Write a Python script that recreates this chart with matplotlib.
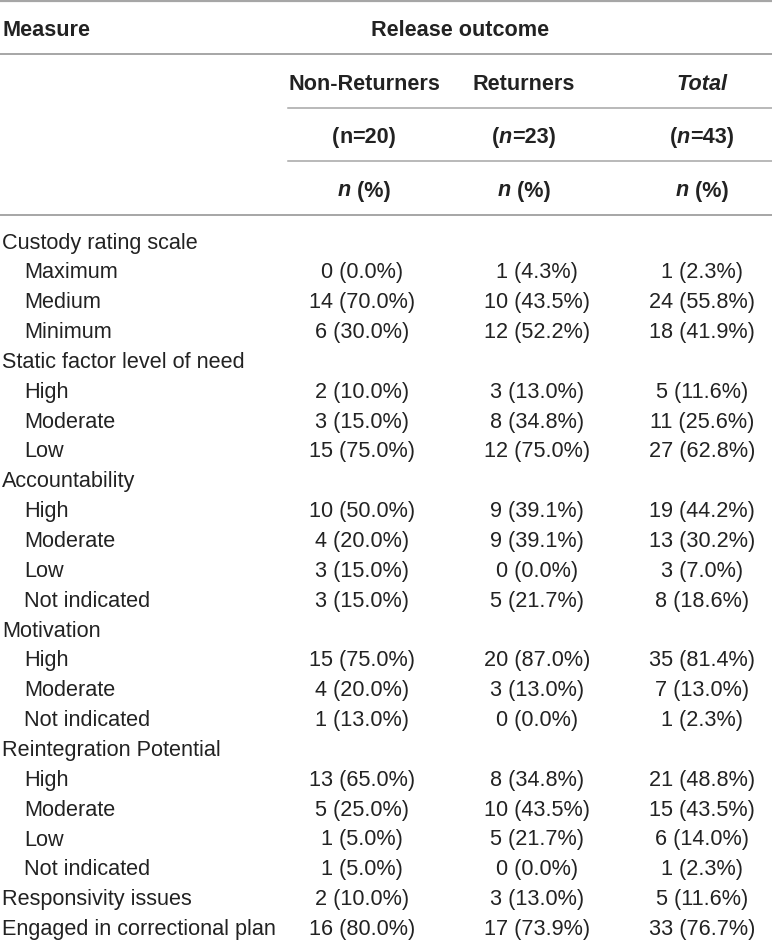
import matplotlib
matplotlib.use("Agg")
import matplotlib.pyplot as plt

plt.rcParams['font.family'] = ['Liberation Sans', 'DejaVu Sans']

# table rows
labels = ["Custody rating scale", "Maximum", "Medium", "Minimum",
          "Static factor level of need", "High", "Moderate", "Low",
          "Accountability", "High", "Moderate", "Low", "Not indicated",
          "Motivation", "High", "Moderate", "Not indicated",
          "Reintegration Potential", "High", "Moderate", "Low", "Not indicated",
          "Responsivity issues", "Engaged in correctional plan"]
indented = [0, 1, 1, 1, 0, 1, 1, 1, 0, 1, 1, 1, 1, 0, 1, 1, 1, 0, 1, 1, 1, 1, 0, 0]

nonret_n = [None, 0, 14, 6, None, 2, 3, 15, None, 10, 4, 3, 3, None, 15, 4, 1, None, 13, 5, 1, 1, 2, 16]
nonret_pct = [None, 0.0, 70.0, 30.0, None, 10.0, 15.0, 75.0, None, 50.0, 20.0, 15.0, 15.0,
              None, 75.0, 20.0, 13.0, None, 65.0, 25.0, 5.0, 5.0, 10.0, 80.0]
ret_n = [None, 1, 10, 12, None, 3, 8, 12, None, 9, 9, 0, 5, None, 20, 3, 0, None, 8, 10, 5, 0, 3, 17]
ret_pct = [None, 4.3, 43.5, 52.2, None, 13.0, 34.8, 75.0, None, 39.1, 39.1, 0.0, 21.7,
           None, 87.0, 13.0, 0.0, None, 34.8, 43.5, 21.7, 0.0, 13.0, 73.9]
tot_n = [None, 1, 24, 18, None, 5, 11, 27, None, 19, 13, 3, 8, None, 35, 7, 1, None, 21, 15, 6, 1, 5, 33]
tot_pct = [None, 2.3, 55.8, 41.9, None, 11.6, 25.6, 62.8, None, 44.2, 30.2, 7.0, 18.6,
           None, 81.4, 13.0, 2.3, None, 48.8, 43.5, 14.0, 2.3, 11.6, 76.7]

groups = ["Non-Returners", "Returners", "Total"]
group_sizes = ["20", "23", "43"]

W, H = 772, 943
fig = plt.figure(figsize=(W / 100, H / 100), dpi=100)
ax = fig.add_axes([0, 0, 1, 1])
ax.set_xlim(0, W)
ax.set_ylim(H, 0)
ax.axis('off')

FS = 15.6
TXT = '#222222'
LINE = '#a6a6a6'
data_x = [362, 537, 702]
head_x = [364, 524, 702]
renderer = fig.canvas.get_renderer()


def mixed(xc, y, parts):
    # bold text made of pieces, some italic, centred on xc
    objs = [ax.text(0, y, s, fontsize=FS, fontweight='bold', fontstyle=st,
                    color=TXT, va='baseline', ha='left') for s, st in parts]
    widths = [t.get_window_extent(renderer).width for t in objs]
    x = xc - sum(widths) / 2
    for t, w in zip(objs, widths):
        t.set_x(x)
        x += w


# rules
ax.plot([0, W], [1, 1], color=LINE, lw=1.6)
ax.plot([0, W], [54, 54], color=LINE, lw=1.4)
ax.plot([288, W], [107.5, 107.5], color=LINE, lw=1.1)
ax.plot([288, W], [161, 161], color=LINE, lw=1.1)
ax.plot([0, W], [215, 215], color=LINE, lw=1.4)

# header
ax.text(2, 36, "Measure", fontsize=FS, fontweight='bold', color=TXT, va='baseline')
ax.text(460, 36, "Release outcome", fontsize=FS, fontweight='bold', color=TXT,
        va='baseline', ha='center')
for i, g in enumerate(groups):
    st = 'italic' if g == "Total" else 'normal'
    ax.text(head_x[i], 89.5, g, fontsize=FS, fontweight='bold', fontstyle=st,
            color=TXT, va='baseline', ha='center')
    n_style = 'normal' if i == 0 else 'italic'
    mixed(head_x[i], 143, [("(", 'normal'), ("n", n_style), ("=" + group_sizes[i] + ")", 'normal')])
    mixed(head_x[i], 196.5, [("n", 'italic'), (" (%)", 'normal')])

# body
cols = [(nonret_n, nonret_pct), (ret_n, ret_pct), (tot_n, tot_pct)]
for r, lab in enumerate(labels):
    y = 248.5 + r * 29.85
    ax.text(24 if indented[r] else 2, y, lab, fontsize=FS, color=TXT, va='baseline')
    for c, (ns, ps) in enumerate(cols):
        if ns[r] is None:
            continue
        ax.text(data_x[c], y, f"{ns[r]} ({ps[r]:.1f}%)", fontsize=FS, color=TXT,
                va='baseline', ha='center')

fig.savefig("out.png", dpi=100)
